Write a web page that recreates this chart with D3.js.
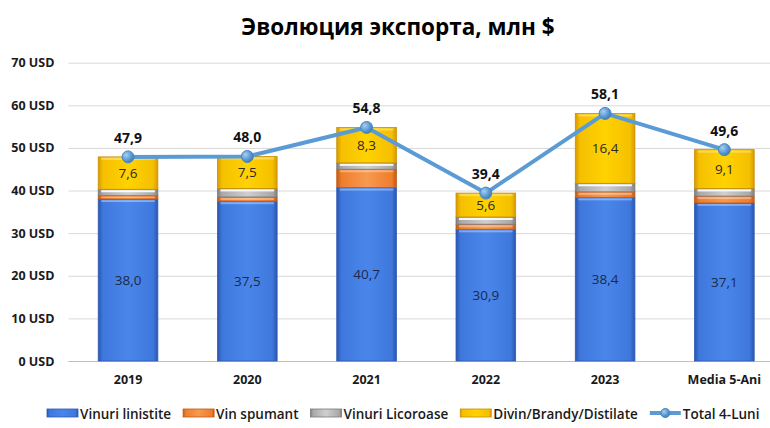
<!DOCTYPE html>
<html>
<head>
<meta charset="utf-8">
<script src="https://cdn.jsdelivr.net/npm/d3@7/dist/d3.min.js"></script>
<style>
  body { margin: 0; background: #fff; }
  svg { display: block; }
  text { font-family: "Open Sans", "Noto Sans", sans-serif; }
</style>
</head>
<body>
<svg id="chart" width="770" height="428"></svg>
<script>
// ---- data ----
const categories = ["2019", "2020", "2021", "2022", "2023", "Media 5-Ani"];
const vinuriLinistite = [38.0, 37.5, 40.7, 30.9, 38.4, 37.1];
const vinSpumant      = [0.8, 1.0, 4.3, 1.2, 1.3, 1.6];
const vinuriLicoroase = [1.5, 2.0, 1.5, 1.7, 2.0, 1.8];
const divinBrandy     = [7.6, 7.5, 8.3, 5.6, 16.4, 9.1];
const total4Luni      = [47.9, 48.0, 54.8, 39.4, 58.1, 49.6];
const yTicks = [0, 10, 20, 30, 40, 50, 60, 70];
const seriesNames = ["Vinuri linistite", "Vin spumant", "Vinuri Licoroase", "Divin/Brandy/Distilate"];
const lineName = "Total 4-Luni";
const title = "Эволюция экспорта, млн $";

const svg = d3.select("#chart");
const plot = { left: 68.4, right: 784, top: 62.7, bottom: 361 };

const x = d3.scaleBand().domain(categories).range([plot.left, plot.right])
  .paddingInner(0.5).paddingOuter(0.25);
const y = d3.scaleLinear().domain([0, 70]).range([plot.bottom, plot.top]);

const fmt = v => d3.format(".1f")(v).replace(".", ",");

// gradients
const defs = svg.append("defs");
const palettes = [
  { id: "gBlue",   edge: "#2a55b0", mid: "#3f78dc", light: "#4a86ea" },
  { id: "gOrange", edge: "#c45a14", mid: "#ef7d2c", light: "#f79a50" },
  { id: "gGray",   edge: "#7f7f7f", mid: "#a9a9a9", light: "#cfcfcf" },
  { id: "gYellow", edge: "#d99a00", mid: "#f5c000", light: "#ffd200" }
];
palettes.forEach(p => {
  const g = defs.append("linearGradient").attr("id", p.id)
    .attr("x1", "0").attr("x2", "1").attr("y1", "0").attr("y2", "0");
  g.append("stop").attr("offset", "0%").attr("stop-color", p.edge);
  g.append("stop").attr("offset", "8%").attr("stop-color", p.mid);
  g.append("stop").attr("offset", "50%").attr("stop-color", p.light);
  g.append("stop").attr("offset", "92%").attr("stop-color", p.mid);
  g.append("stop").attr("offset", "100%").attr("stop-color", p.edge);
});
const rg = defs.append("radialGradient").attr("id", "gMarker")
  .attr("cx", "35%").attr("cy", "35%").attr("r", "70%");
rg.append("stop").attr("offset", "0%").attr("stop-color", "#a9cdf0");
rg.append("stop").attr("offset", "60%").attr("stop-color", "#5b9bd5");
rg.append("stop").attr("offset", "100%").attr("stop-color", "#3d79b5");

// title
svg.append("text").attr("x", 398).attr("y", 35).attr("text-anchor", "middle")
  .attr("font-size", 22.5).attr("font-weight", 700).attr("fill", "#000").text(title);

// gridlines + y axis labels
const yAxis = svg.append("g").attr("transform", `translate(${plot.left},0)`)
  .call(d3.axisLeft(y).tickValues(yTicks).tickSize(-(plot.right - plot.left)).tickPadding(14)
    .tickFormat(d => d + " USD"));
yAxis.select(".domain").remove();
yAxis.selectAll(".tick line").attr("stroke", "#d9d9d9").attr("stroke-width", 1);
yAxis.selectAll(".tick text").attr("font-size", 12.5).attr("font-weight", 700)
  .attr("fill", "#1a1a1a").style("font-family", "'Open Sans', sans-serif");

// x axis
const xAxis = svg.append("g").attr("transform", `translate(0,${plot.bottom})`)
  .call(d3.axisBottom(x).tickSize(0).tickPadding(14));
xAxis.select(".domain").attr("stroke", "#bfbfbf").attr("stroke-width", 1)
  .attr("d", `M${plot.left},0.5H${plot.right}`);
xAxis.selectAll(".tick text").attr("font-size", 12.5).attr("font-weight", 700)
  .attr("fill", "#1a1a1a").style("font-family", "'Open Sans', sans-serif");

// stacked bars
const rows = categories.map((c, i) => ({
  cat: c, a: vinuriLinistite[i], b: vinSpumant[i], c2: vinuriLicoroase[i], d: divinBrandy[i]
}));
const stack = d3.stack().keys(["a", "b", "c2", "d"]);
const stacked = stack(rows);
const fills = ["url(#gBlue)", "url(#gOrange)", "url(#gGray)", "url(#gYellow)"];
const strokes = ["#2d5ab3", "#c05a16", "#7a7a7a", "#c99000"];

stacked.forEach((layer, li) => {
  svg.append("g").selectAll("rect").data(layer).join("rect")
    .attr("x", d => x(d.data.cat))
    .attr("width", x.bandwidth())
    .attr("y", d => y(d[1]))
    .attr("height", d => y(d[0]) - y(d[1]))
    .attr("fill", fills[li])
    .attr("stroke", strokes[li]).attr("stroke-width", 0.8);
  // top highlight
  svg.append("g").selectAll("rect").data(layer).join("rect")
    .attr("x", d => x(d.data.cat) + 3)
    .attr("width", x.bandwidth() - 6)
    .attr("y", d => y(d[1]) + 1)
    .attr("height", d => Math.min(2, Math.max(0, y(d[0]) - y(d[1]) - 2)))
    .attr("fill", "#ffffff").attr("opacity", li === 2 ? 0.9 : 0.35);
});

// labels inside blue and yellow
[0, 3].forEach(li => {
  svg.append("g").selectAll("text").data(stacked[li]).join("text")
    .attr("x", d => x(d.data.cat) + x.bandwidth() / 2)
    .attr("y", d => (y(d[0]) + y(d[1])) / 2 + 5)
    .attr("text-anchor", "middle").attr("font-size", 13.5)
    .attr("fill", li === 0 ? "#1b2a4a" : "#2a2a2a")
    .text(d => fmt(d[1] - d[0]));
});

// total line
const line = d3.line().x((d, i) => x(categories[i]) + x.bandwidth() / 2).y(d => y(d));
svg.append("path").datum(total4Luni).attr("d", line)
  .attr("fill", "none").attr("stroke", "#5b9bd5").attr("stroke-width", 4)
  .attr("stroke-linejoin", "round");
svg.append("g").selectAll("circle").data(total4Luni).join("circle")
  .attr("cx", (d, i) => x(categories[i]) + x.bandwidth() / 2)
  .attr("cy", d => y(d)).attr("r", 6)
  .attr("fill", "url(#gMarker)").attr("stroke", "#4a86c0").attr("stroke-width", 1);
svg.append("g").selectAll("text").data(total4Luni).join("text")
  .attr("x", (d, i) => x(categories[i]) + x.bandwidth() / 2)
  .attr("y", d => y(d) - 14)
  .attr("text-anchor", "middle").attr("font-size", 14).attr("font-weight", 700)
  .attr("fill", "#111").text(d => fmt(d));

// legend
const legend = svg.append("g");
const legendItems = seriesNames.map((n, i) => ({ name: n, fill: fills[i], stroke: strokes[i], type: "bar" }))
  .concat([{ name: lineName, type: "line" }]);
let lx = 47;
const ly = 414;
legendItems.forEach(it => {
  const g = legend.append("g");
  if (it.type === "bar") {
    g.append("rect").attr("x", lx).attr("y", ly - 5).attr("width", 31).attr("height", 8)
      .attr("fill", it.fill).attr("stroke", it.stroke).attr("stroke-width", 0.8);
  } else {
    g.append("line").attr("x1", lx).attr("x2", lx + 31).attr("y1", ly - 1).attr("y2", ly - 1)
      .attr("stroke", "#5b9bd5").attr("stroke-width", 4);
    g.append("circle").attr("cx", lx + 15.5).attr("cy", ly - 1).attr("r", 4.5)
      .attr("fill", "url(#gMarker)").attr("stroke", "#4a86c0");
  }
  const t = g.append("text").attr("x", lx + 33).attr("y", ly + 4.5)
    .attr("font-size", 13.5).attr("font-weight", 600).attr("fill", "#1a1a1a").text(it.name);
  lx += 33 + t.node().getComputedTextLength() + 12;
});
</script>
</body>
</html>
